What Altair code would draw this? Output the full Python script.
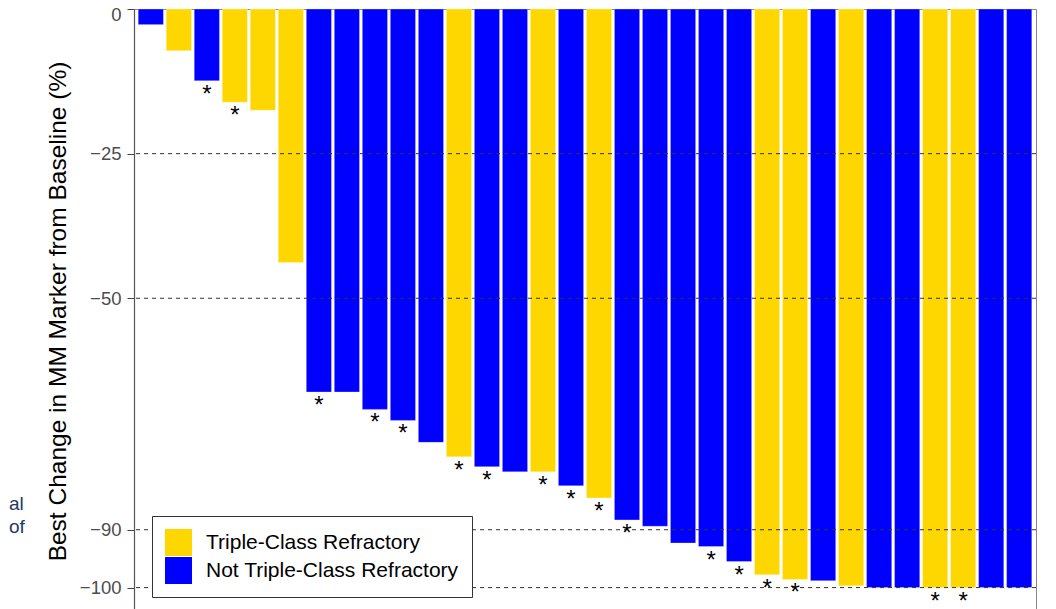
import altair as alt
import pandas as pd

# Best change values (%), one per patient, ordered as in the waterfall
values = [-2.7, -7.2, -12.4, -16.1, -17.5, -43.8, -66.2, -66.2, -69.2, -71.1,
          -74.9, -77.4, -79.1, -80.0, -80.0, -82.4, -84.5, -88.3, -89.4, -92.3,
          -92.9, -95.5, -97.8, -98.6, -98.8, -99.7, -100, -100, -100, -100,
          -100, -100]
# Y = Triple-Class Refractory, B = Not Triple-Class Refractory
groups_code = ["B", "Y", "B", "Y", "Y", "Y", "B", "B", "B", "B",
               "B", "Y", "B", "B", "Y", "B", "Y", "B", "B", "B",
               "B", "B", "Y", "Y", "B", "Y", "B", "B", "Y", "Y",
               "B", "B"]
# patients marked with an asterisk (1-based position)
starred = [3, 4, 7, 9, 10, 12, 13, 15, 16, 17, 18, 21, 22, 23, 24, 29, 30]

categories = ["Triple-Class Refractory", "Not Triple-Class Refractory"]
colors = ["#FFD700", "#0000FF"]
ref_values = [-25, -50, -90, -100]
tick_values = [0, -25, -50, -90, -100]
fragments = ["al", "of"]

names = {"Y": categories[0], "B": categories[1]}
df = pd.DataFrame({
    "idx": list(range(1, len(values) + 1)),
    "value": values,
    "group": [names[g] for g in groups_code],
    "star": [(i + 1) in starred for i in range(len(values))],
})
refs = pd.DataFrame({"value": ref_values})

yscale = alt.Scale(domain=[-103.7, 0], nice=False, zero=False)
xscale = alt.Scale(paddingInner=0.1, paddingOuter=0.15)

bars = alt.Chart(df).mark_bar(stroke="white", strokeWidth=0.3).encode(
    x=alt.X("idx:O", axis=None, scale=xscale),
    y=alt.Y("value:Q", scale=yscale,
            axis=alt.Axis(values=tick_values, grid=False, tickSize=7,
                          labelPadding=6, labelFontSize=18.5,
                          labelOffset={"expr": "datum.value == 0 ? 5 : 0"},
                          labelColor="#4d4d4d", tickColor="#444",
                          domainColor="#555", domainWidth=1.2,
                          title="Best Change in MM Marker from Baseline (%)",
                          titleFontSize=24.5, titleFontWeight="normal",
                          titleColor="black", titleAngle=270,
                          titleX=-69, titleY=302, titleAlign="center",
                          titleBaseline="alphabetic")),
    y2=alt.datum(0),
    color=alt.Color("group:N",
                    scale=alt.Scale(domain=categories, range=colors),
                    legend=alt.Legend(title=None, orient="none",
                                      legendX=18, legendY=507)),
)

rules = alt.Chart(refs).mark_rule(color="#333", strokeDash=[4, 4],
                                  strokeWidth=1).encode(
    y=alt.Y("value:Q", scale=yscale)
)

stars = alt.Chart(df).transform_filter("datum.star").mark_text(
    text="*", fontSize=24, baseline="alphabetic", dy=21, color="black"
).encode(
    x=alt.X("idx:O", axis=None, scale=xscale, bandPosition=0.5),
    y=alt.Y("value:Q", scale=yscale),
)

frag_df = pd.DataFrame({"t": [0]})
frag1 = alt.Chart(frag_df).mark_text(
    text=fragments[0], fontSize=19, align="left", baseline="alphabetic",
    color="#1F3864"
).encode(x=alt.value(-125), y=alt.value(501))
frag2 = alt.Chart(frag_df).mark_text(
    text=fragments[1], fontSize=19, align="left", baseline="alphabetic",
    color="#1F3864"
).encode(x=alt.value(-125), y=alt.value(524))

chart = alt.layer(bars, rules, stars, frag1, frag2).properties(
    width=902, height=600,
    autosize=alt.AutoSizeParams(type="none"),
    padding={"left": 126, "top": 1, "right": 12, "bottom": 0},
).configure(
    font="Liberation Sans",
).configure_view(
    stroke="#888", strokeWidth=1,
).configure_legend(
    fillColor="white", strokeColor="#333", strokeWidth=1, padding=13,
    symbolType="square", symbolSize=729, symbolStrokeWidth=0,
    symbolOpacity=1, labelFontSize=21, labelColor="black",
    labelOffset=14, labelLimit=500, rowPadding=1, cornerRadius=0,
)

chart.save("out.html", embed_options={"renderer": "svg", "actions": False})
